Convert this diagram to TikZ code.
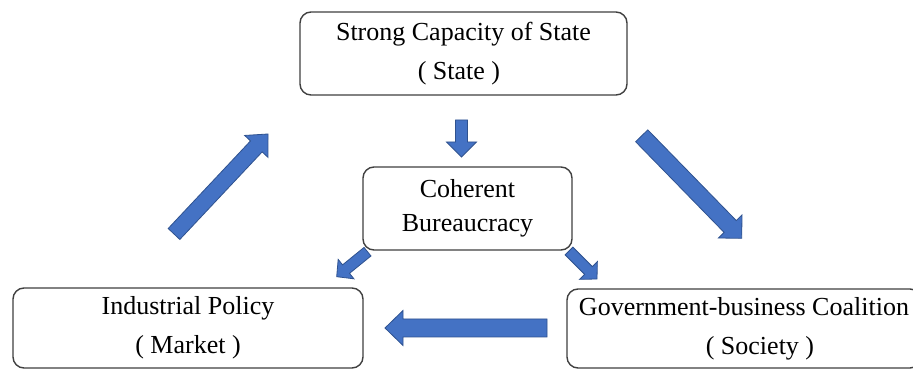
\documentclass[tikz,border=0pt]{standalone}
\usepackage{fontspec}
\setmainfont{Liberation Serif}
\usetikzlibrary{calc}
\definecolor{arrowfill}{HTML}{4472C4}
\definecolor{arrowline}{HTML}{2F528F}
\definecolor{boxline}{HTML}{404040}
\tikzset{
  rbox/.style={draw=boxline, line width=1.4pt, rounded corners=11pt, align=center, inner sep=0pt,
    font=\fontsize{26}{39}\selectfont},
  blockarrow/.style={draw=arrowline, fill=arrowfill, line width=0.8pt, line join=miter}
}
\newcommand{\blkarrow}[5]{%
  \path[blockarrow] let \p1=(#1), \p2=(#2),
    \n1={atan2(\y2-\y1,\x2-\x1)}, \n2={veclen(\x2-\x1,\y2-\y1)-#5pt} in
    ($(\p1)+(\n1+90:#3)$) -- ($(\p1)+(\n1:\n2)+(\n1+90:#3)$) --
    ($(\p1)+(\n1:\n2)+(\n1+90:#4)$) -- (\p2) --
    ($(\p1)+(\n1:\n2)+(\n1-90:#4)$) -- ($(\p1)+(\n1:\n2)+(\n1-90:#3)$) --
    ($(\p1)+(\n1-90:#3)$) -- cycle;}
\begin{document}
\begin{tikzpicture}[x=1pt,y=1pt]
\useasboundingbox (0,0) rectangle (913,371);
\clip (0,0) rectangle (913,371);
\fill[white] (0,0) rectangle (913,371);
% boxes
\node[rbox, minimum width=327pt, minimum height=83pt] (state) at (463.5,317.5)
  {Strong Capacity of State\\( State )\hspace*{9pt}};
\node[rbox, minimum width=209pt, minimum height=83pt, font=\fontsize{26}{34}\selectfont] (bur) at (467.5,162.5)
  {Coherent\\Bureaucracy};
\node[rbox, minimum width=350pt, minimum height=80pt] (ind) at (188,43)
  {Industrial Policy\\( Market )};
\node[rbox, minimum width=354pt, minimum height=79pt] (gov) at (744,42.5)
  {Government-business Coalition\\\hspace*{32pt}( Society )};
% arrow end points
\coordinate (s1) at (461.5,251);   \coordinate (t1) at (461.5,214);
\coordinate (s2) at (174,137);     \coordinate (t2) at (268,237);
\coordinate (s3) at (641.7,235.2); \coordinate (t3) at (741.7,132.7);
\coordinate (s4) at (367.5,119.3); \coordinate (t4) at (336.7,94.3);
\coordinate (s5) at (569,120);     \coordinate (t5) at (597,92);
\coordinate (s6) at (547,43);      \coordinate (t6) at (385,43);
% arrows
\blkarrow{s1}{t1}{6}{15}{15}
\blkarrow{s2}{t2}{8}{16}{17}
\blkarrow{s3}{t3}{8.5}{16.5}{16.5}
\blkarrow{s4}{t4}{5.5}{12.5}{12}
\blkarrow{s5}{t5}{5.5}{12.5}{12}
\blkarrow{s6}{t6}{9}{17.5}{18}
\end{tikzpicture}
\end{document}
